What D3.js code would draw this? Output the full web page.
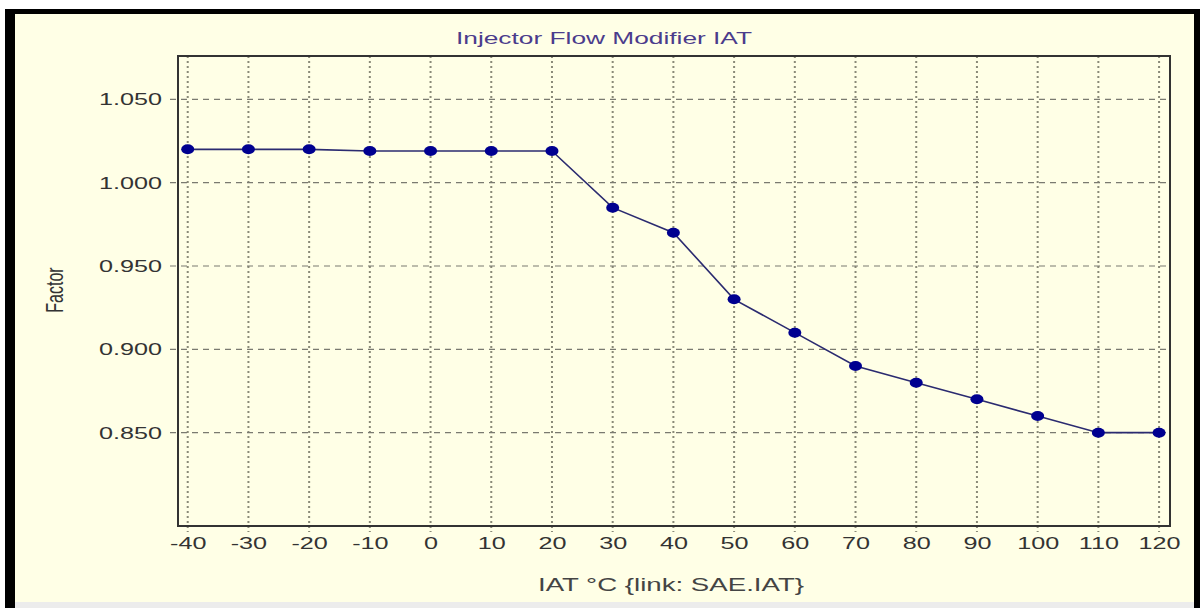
<!DOCTYPE html>
<html>
<head>
<meta charset="utf-8">
<script src="https://cdn.jsdelivr.net/npm/d3@7/dist/d3.min.js"></script>
<style>
  html, body { margin: 0; padding: 0; background: #fff; }
  svg { display: block; }
</style>
</head>
<body>
<svg id="chart"></svg>
<script>
const iat = [-40, -30, -20, -10, 0, 10, 20, 30, 40, 50, 60, 70, 80, 90, 100, 110, 120];
const factor = [1.020, 1.020, 1.020, 1.019, 1.019, 1.019, 1.019, 0.985, 0.970, 0.930, 0.910, 0.890, 0.880, 0.870, 0.860, 0.850, 0.850];
const yTicks = [0.850, 0.900, 0.950, 1.000, 1.050];
const title = 'Injector Flow Modifier IAT';
const xTitle = 'IAT °C {link: SAE.IAT}';
const yTitle = 'Factor';

const width = 1200, height = 608;
const plot = { left: 178, top: 56, right: 1170, bottom: 526 };
const font = 'Liberation Sans, Arial, sans-serif';
const stretch = 1.48; // the old screenshot is wider than tall

const svg = d3.select('#chart')
  .attr('width', width)
  .attr('height', height);

// frame of the window
svg.append('rect')
  .attr('x', 15).attr('y', 14)
  .attr('width', 1179).attr('height', 588)
  .attr('fill', '#ffffe6');
svg.append('rect').attr('x', 5).attr('y', 9).attr('width', 1192).attr('height', 5).attr('fill', '#000');
svg.append('rect').attr('x', 5).attr('y', 9).attr('width', 10).attr('height', 599).attr('fill', '#000');
svg.append('rect').attr('x', 1194).attr('y', 9).attr('width', 6).attr('height', 599).attr('fill', '#000');
svg.append('rect').attr('x', 15).attr('y', 602).attr('width', 1179).attr('height', 6).attr('fill', '#ececec');

const x = d3.scaleLinear().domain([-41.6, 121.8]).range([plot.left, plot.right]);
const y = d3.scaleLinear().domain([0.794, 1.076]).range([plot.bottom, plot.top]);

const grid = svg.append('g');
grid.selectAll('line.v')
  .data(iat)
  .enter().append('line')
  .attr('class', 'v')
  .attr('x1', d => x(d)).attr('x2', d => x(d))
  .attr('y1', plot.top).attr('y2', plot.bottom + 6)
  .attr('stroke', '#8a8a78')
  .attr('stroke-width', 2)
  .attr('stroke-dasharray', '2,3');
grid.selectAll('line.h')
  .data(yTicks)
  .enter().append('line')
  .attr('class', 'h')
  .attr('x1', plot.left - 8).attr('x2', plot.right)
  .attr('y1', d => y(d)).attr('y2', d => y(d))
  .attr('stroke', '#7a7a70')
  .attr('stroke-width', 1.2)
  .attr('stroke-dasharray', '6,5');

// plot border
svg.append('rect')
  .attr('x', plot.left).attr('y', plot.top)
  .attr('width', plot.right - plot.left).attr('height', plot.bottom - plot.top)
  .attr('fill', 'none')
  .attr('stroke', '#333')
  .attr('stroke-width', 2);

// widen text like the source picture
const widen = sel => sel.each(function () {
  const w = this.getComputedTextLength();
  d3.select(this)
    .attr('textLength', w * stretch)
    .attr('lengthAdjust', 'spacingAndGlyphs');
});

const xAxis = svg.append('g')
  .attr('transform', `translate(0,${plot.bottom})`)
  .call(d3.axisBottom(x).tickValues(iat).tickSize(0).tickPadding(11).tickFormat(d => String(d)));
xAxis.select('.domain').remove();
xAxis.selectAll('text')
  .attr('font-family', font)
  .attr('font-size', 17)
  .attr('fill', '#333')
  .call(widen);

const yAxis = svg.append('g')
  .attr('transform', `translate(${plot.left},0)`)
  .call(d3.axisLeft(y).tickValues(yTicks).tickSize(0).tickPadding(16).tickFormat(d3.format('.3f')));
yAxis.select('.domain').remove();
yAxis.selectAll('text')
  .attr('font-family', font)
  .attr('font-size', 17)
  .attr('fill', '#333')
  .call(widen);

const data = iat.map((d, i) => ({ t: d, f: factor[i] }));

svg.append('path')
  .datum(data)
  .attr('fill', 'none')
  .attr('stroke', '#2b2b70')
  .attr('stroke-width', 1.6)
  .attr('d', d3.line().x(d => x(d.t)).y(d => y(d.f)));

svg.selectAll('ellipse.pt')
  .data(data)
  .enter().append('ellipse')
  .attr('class', 'pt')
  .attr('cx', d => x(d.t))
  .attr('cy', d => y(d.f))
  .attr('rx', 6.5)
  .attr('ry', 5)
  .attr('fill', '#000090');

svg.append('text')
  .attr('x', 604).attr('y', 44)
  .attr('text-anchor', 'middle')
  .attr('font-family', font)
  .attr('font-size', 16)
  .attr('fill', '#4b3c8c')
  .attr('textLength', 296)
  .attr('lengthAdjust', 'spacingAndGlyphs')
  .text(title);

svg.append('text')
  .attr('x', 671).attr('y', 591)
  .attr('text-anchor', 'middle')
  .attr('font-family', font)
  .attr('font-size', 18)
  .attr('fill', '#444')
  .attr('textLength', 266)
  .attr('lengthAdjust', 'spacingAndGlyphs')
  .text(xTitle);

svg.append('text')
  .attr('transform', `translate(63,290) scale(${stretch},1) rotate(-90)`)
  .attr('text-anchor', 'middle')
  .attr('font-family', font)
  .attr('font-size', 16)
  .attr('fill', '#333')
  .text(yTitle);
</script>
</body>
</html>
